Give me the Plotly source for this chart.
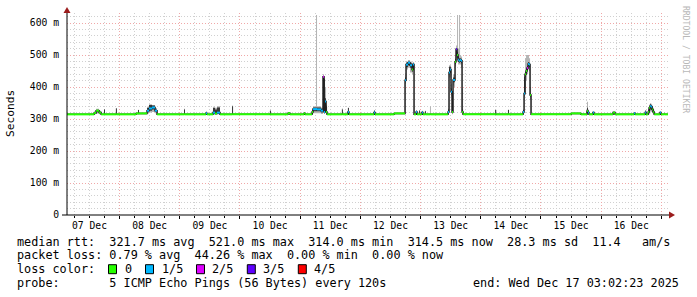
import plotly.graph_objects as go
from datetime import datetime, timedelta

# ---------------- data ----------------
start = datetime(2025, 12, 7, 3, 2, 23)
end = datetime(2025, 12, 17, 3, 2, 23)

# hours since start of each step knot (value holds until the next knot)
t_hours = [0.0, 10.8, 11.6, 12.8, 13.6, 14.75, 15.15, 19.5, 19.9, 27.5,
           28.3, 28.7, 31.9, 32.7, 33.9, 35.1, 35.9, 46.65, 47.05, 55.4,
           55.8, 58.2, 59.0, 59.8, 61.0, 65.8, 66.2, 80.9, 81.3, 88.1,
           88.9, 94.5, 94.9, 97.69, 98.09, 99.28, 99.68, 101.28, 102.07, 102.47,
           102.87, 103.27, 103.67, 109.6, 110.0, 112.0, 112.4, 122.4, 122.8, 130.4,
           134.77, 135.17, 135.96, 136.76, 137.56, 137.96, 138.36, 139.16, 139.56, 140.36,
           140.76, 141.5, 141.9, 142.7, 143.1, 144.7, 145.1, 151.9, 152.3, 152.7,
           153.1, 153.5, 153.9, 154.3, 154.7, 155.1, 155.5, 155.9, 156.3, 156.7,
           157.1, 157.5, 157.9, 170.7, 171.1, 175.8, 176.2, 181.8, 182.22, 182.62,
           183.01, 183.41, 183.81, 184.21, 184.61, 185.0, 200.96, 204.9, 207.3, 207.7,
           208.1, 209.7, 210.1, 217.7, 218.5, 226.1, 226.5, 230.5, 230.9, 231.7,
           232.1, 232.5, 232.9, 233.3, 233.7, 234.1, 236.4, 236.8, 238.0, 238.4,
           239.6]

median_ms = [314.5, 319, 326, 320, 314.5, 314.5, 314.5, 314.5, 314.5, 317.5,
             317.5, 317.5, 326, 333, 336, 326, 314.5, 314.5, 314.5, 318,
             314.5, 320, 317, 320, 314.5, 314.5, 314.5, 314.5, 314.5, 318,
             314.5, 318, 314.5, 322, 331, 331, 330, 326, 432, 322,
             355, 322, 314.5, 314.5, 314.5, 322, 314.5, 320, 314.5, 317.5,
             421, 470, 476, 468, 455, 470, 314.5, 322, 314.5, 314.5,
             314.5, 320, 314.5, 314.5, 314.5, 314.5, 314.5, 322, 445, 455,
             385, 322, 422, 422, 479, 518, 500, 485, 482, 484,
             482, 322, 314.5, 314.5, 314.5, 314.5, 314.5, 322, 380, 440,
             450, 459, 472, 470, 375, 314.5, 317.5, 314.5, 325, 320,
             314.5, 320, 314.5, 320, 314.5, 318, 314.5, 320, 314.5, 322,
             335, 341, 338, 330, 322, 314.5, 320, 314.5, 314.5, 314.5,
             314.5]

# lost pings out of 5 for each knot
loss_fifths = [0, 0, 0, 0, 0, 0, 0, 0, 0, 0,
               0, 0, 1, 1, 1, 1, 0, 0, 0, 1,
               0, 1, 0, 1, 0, 0, 0, 0, 0, 0,
               0, 0, 0, 0, 1, 1, 1, 1, 2, 1,
               1, 0, 0, 0, 0, 1, 0, 1, 0, 0,
               1, 1, 1, 1, 0, 1, 0, 1, 0, 0,
               0, 1, 0, 0, 0, 0, 0, 1, 1, 1,
               1, 0, 1, 1, 0, 3, 0, 1, 1, 1,
               1, 0, 0, 0, 0, 0, 0, 1, 1, 0,
               0, 2, 1, 1, 0, 0, 0, 0, 0, 1,
               0, 1, 0, 0, 0, 1, 0, 1, 0, 0,
               0, 1, 1, 0, 0, 0, 1, 0, 0, 0,
               0]

ping_min_ms = [314.5, 314.5, 317, 314.5, 314.5, 314.5, 314.5, 314.5, 314.5, 314.5,
               314.5, 314.5, 317, 320, 322, 318, 314.5, 314.5, 314.5, 314.5,
               314.5, 314.5, 314.5, 314.5, 314.5, 314.5, 314.5, 314.5, 314.5, 314.5,
               314.5, 314.5, 314.5, 314.5, 318, 318, 318, 316, 420, 316,
               330, 316, 314.5, 314.5, 314.5, 314.5, 314.5, 314.5, 314.5, 314.5,
               410, 455, 460, 445, 440, 455, 314.5, 314.5, 314.5, 314.5,
               314.5, 314.5, 314.5, 314.5, 314.5, 314.5, 314.5, 314.5, 430, 430,
               370, 314.5, 405, 400, 465, 490, 480, 470, 470, 470,
               460, 314.5, 314.5, 314.5, 314.5, 314.5, 314.5, 314.5, 370, 400,
               420, 440, 455, 450, 360, 314.5, 314.5, 314.5, 314.5, 314.5,
               314.5, 314.5, 314.5, 314.5, 314.5, 314.5, 314.5, 314.5, 314.5, 314.5,
               314.5, 325, 322, 318, 314.5, 314.5, 314.5, 314.5, 314.5, 314.5,
               314.5]

ping_lo_ms = [314.5, 316, 321, 317, 314.5, 314.5, 314.5, 314.5, 314.5, 316,
              316, 316, 321, 326, 330, 322, 314.5, 314.5, 314.5, 316,
              314.5, 316, 314.5, 316, 314.5, 314.5, 314.5, 314.5, 314.5, 316,
              314.5, 316, 314.5, 316, 324, 324, 324, 320, 425, 318,
              345, 318, 314.5, 314.5, 314.5, 316, 314.5, 314.5, 314.5, 316,
              415, 462, 468, 460, 448, 462, 314.5, 314.5, 314.5, 314.5,
              314.5, 314.5, 314.5, 314.5, 314.5, 314.5, 314.5, 318, 440, 445,
              378, 318, 415, 415, 472, 505, 490, 478, 476, 478,
              474, 318, 314.5, 314.5, 314.5, 314.5, 314.5, 318, 376, 432,
              442, 452, 466, 462, 370, 314.5, 316, 314.5, 318, 316,
              314.5, 316, 314.5, 316, 314.5, 314.5, 314.5, 314.5, 314.5, 318,
              320, 330, 328, 322, 318, 314.5, 316, 314.5, 314.5, 314.5,
              314.5]

ping_hi_ms = [314.5, 322, 329, 323, 314.5, 330, 314.5, 333, 314.5, 319,
              328, 319, 334, 344, 342, 330, 314.5, 330, 314.5, 322,
              314.5, 334, 330, 336, 314.5, 340, 314.5, 326, 314.5, 320,
              314.5, 320, 314.5, 328, 336, 336, 336, 332, 432, 425,
              365, 340, 314.5, 330, 314.5, 334, 314.5, 326, 314.5, 319,
              430, 476, 480, 474, 465, 474, 314.5, 326, 314.5, 326,
              314.5, 324, 314.5, 324, 314.5, 314.5, 314.5, 330, 463, 463,
              395, 330, 430, 430, 488, 520, 510, 495, 490, 490,
              488, 330, 314.5, 328, 314.5, 328, 314.5, 328, 432, 448,
              458, 466, 478, 476, 380, 314.5, 319, 314.5, 335, 326,
              314.5, 322, 314.5, 322, 314.5, 320, 314.5, 326, 314.5, 330,
              340, 347, 342, 334, 326, 314.5, 322, 314.5, 314.5, 314.5,
              314.5]

ping_max_ms = [314.5, 324, 332, 326, 314.5, 331, 314.5, 334, 314.5, 320,
               329, 320, 338, 346, 344, 334, 314.5, 332, 314.5, 324,
               314.5, 338, 335, 340, 314.5, 342, 314.5, 327, 314.5, 321,
               314.5, 321, 314.5, 332, 340, 625, 340, 336, 440, 430,
               400, 345, 314.5, 333, 314.5, 336, 314.5, 328, 314.5, 320,
               440, 480, 484, 480, 476, 478, 314.5, 328, 314.5, 328,
               314.5, 326, 314.5, 326, 314.5, 340, 314.5, 333, 468, 468,
               410, 340, 440, 440, 500, 530, 625, 520, 625, 500,
               495, 395, 314.5, 330, 314.5, 330, 314.5, 330, 440, 490,
               500, 500, 500, 490, 400, 314.5, 320, 314.5, 354, 330,
               314.5, 324, 314.5, 324, 314.5, 322, 314.5, 328, 314.5, 334,
               345, 350, 345, 338, 330, 314.5, 324, 314.5, 322, 314.5,
               314.5]

loss_labels = ["0", "1/5", "2/5", "3/5", "4/5"]
loss_colors = ["#26ff00", "#00b8ff", "#dd00ff", "#5e00ff", "#ff0000"]

day_labels = ["07 Dec", "08 Dec", "09 Dec", "10 Dec", "11 Dec",
              "12 Dec", "13 Dec", "14 Dec", "15 Dec", "16 Dec"]
y_values = [0, 100, 200, 300, 400, 500, 600]
y_labels = ["0", "100 m", "200 m", "300 m", "400 m", "500 m", "600 m"]

legend_lines = [
    "median rtt:  321.7 ms avg  521.0 ms max  314.0 ms min  314.5 ms now  28.3 ms sd  11.4   am/s",
    "packet loss: 0.79 % avg  44.26 % max  0.00 % min  0.00 % now",
    "loss color:",
    "probe:       5 ICMP Echo Pings (56 Bytes) every 120s",
]
end_text = "end: Wed Dec 17 03:02:23 2025"

# ---------------- geometry ----------------
W, H = 697, 297
L, R, T, BOT = 67, 669, 13, 215
PW, PH = R - L, BOT - T
MONO = "DejaVu Sans Mono"


def px(x):
    return (x - L) / PW


def py(y):
    return (BOT - y) / PH


times = [start + timedelta(hours=h) for h in t_hours]

fig = go.Figure()

# light smoke (min..max)
fig.add_trace(go.Scatter(x=times, y=ping_min_ms, mode="lines", line=dict(width=0, shape="hv"),
                         hoverinfo="skip", showlegend=False))
fig.add_trace(go.Scatter(x=times, y=ping_max_ms, mode="lines", line=dict(width=0, shape="hv"),
                         fill="tonexty", fillcolor="#b4b4b4", hoverinfo="skip", showlegend=False))
# dark smoke (lo..hi)
fig.add_trace(go.Scatter(x=times, y=ping_lo_ms, mode="lines", line=dict(width=0, shape="hv"),
                         hoverinfo="skip", showlegend=False))
fig.add_trace(go.Scatter(x=times, y=ping_hi_ms, mode="lines", line=dict(width=0, shape="hv"),
                         fill="tonexty", fillcolor="#3a3a3a", hoverinfo="skip", showlegend=False))
# median line
fig.add_trace(go.Scatter(x=times, y=median_ms, mode="lines",
                         line=dict(width=1.5, shape="hv", color="#202020"),
                         hoverinfo="skip", showlegend=False))
# loss-coloured median segments
for cls, col in enumerate(loss_colors):
    xs, ys = [], []
    for i in range(len(times) - 1):
        if loss_fifths[i] == cls:
            xs += [times[i], times[i + 1], None]
            ys += [median_ms[i], median_ms[i], None]
    if xs:
        fig.add_trace(go.Scatter(x=xs, y=ys, mode="lines", line=dict(width=2, color=col),
                                 hoverinfo="skip", showlegend=False))

# empty trace to create the overlay axis for midnight grid
fig.add_trace(go.Scatter(x=[], y=[], xaxis="x2", showlegend=False))

noons = [datetime(2025, 12, 7 + i, 12) for i in range(len(day_labels))]
midnights = [datetime(2025, 12, 8 + i) for i in range(10)]

fig.update_layout(
    width=W, height=H,
    margin=dict(l=L, r=W - R, t=T, b=H - BOT, pad=0),
    paper_bgcolor="white", plot_bgcolor="white",
    showlegend=False,
    xaxis=dict(
        type="date", range=[start, end], tickvals=noons, ticktext=day_labels,
        showgrid=False, zeroline=False, showline=False, ticks="",
        tickfont=dict(family=MONO, size=9.7, color="#000"),
        ticklabelstandoff=3,
        minor=dict(dtick=6 * 3600 * 1000, tick0="2025-12-07 00:00", showgrid=True,
                   gridcolor="#d0d0d0", griddash="1px,2px", gridwidth=1,
                   ticks="outside", ticklen=2, tickcolor="#000"),
    ),
    xaxis2=dict(
        type="date", range=[start, end], overlaying="x", anchor="y", side="bottom",
        tickvals=midnights, showticklabels=False, showgrid=True,
        gridcolor="#f0a8a8", griddash="1px,2px", gridwidth=1,
        ticks="outside", ticklen=3, tickcolor="#000", zeroline=False, showline=False,
    ),
    yaxis=dict(
        range=[0, 631.25], tickvals=y_values, ticktext=y_labels,
        showgrid=True, gridcolor="#f0a8a8", griddash="1px,2px", gridwidth=1,
        zeroline=False, showline=False, ticks="",
        tickfont=dict(family=MONO, size=9.7, color="#000"),
        ticklabelstandoff=7,
        minor=dict(dtick=20, showgrid=True, gridcolor="#d0d0d0", griddash="1px,2px", gridwidth=1),
    ),
)

shapes = []
# axes lines
shapes.append(dict(type="line", xref="paper", yref="paper", x0=px(62), x1=px(670), y0=0, y1=0,
                   line=dict(color="#000", width=1)))
shapes.append(dict(type="line", xref="paper", yref="paper", x0=0, x1=0, y0=0, y1=py(10),
                   line=dict(color="#000", width=1)))
# arrow heads
shapes.append(dict(type="path", xref="paper", yref="paper",
                   path=f"M {px(669)} {py(211.5)} L {px(675)} {py(215)} L {px(669)} {py(218.5)} Z",
                   fillcolor="#9b1c1c", line=dict(width=0)))
shapes.append(dict(type="path", xref="paper", yref="paper",
                   path=f"M {px(63.5)} {py(13)} L {px(67)} {py(7)} L {px(70.5)} {py(13)} Z",
                   fillcolor="#9b1c1c", line=dict(width=0)))

annotations = []
line_y = [241.7, 255.3, 269.2, 283]
for txt, yy in zip(legend_lines, line_y):
    annotations.append(dict(text=txt, x=px(15), y=py(yy), xref="paper", yref="paper",
                            xanchor="left", yanchor="middle", showarrow=False,
                            font=dict(family=MONO, size=11.8, color="#000")))
annotations.append(dict(text=end_text, x=px(681), y=py(283), xref="paper", yref="paper",
                        xanchor="right", yanchor="middle", showarrow=False,
                        font=dict(family=MONO, size=11.8, color="#000")))

sq_x = [108.5, 145.5, 196.5, 247.3, 298.3]
lab_x = [122.5, 159.5, 210.0, 261.0, 311.5]
for lab, col, sx, lx in zip(loss_labels, loss_colors, sq_x, lab_x):
    shapes.append(dict(type="rect", xref="paper", yref="paper",
                       x0=px(sx), x1=px(sx + 8), y0=py(273.7), y1=py(264.7),
                       fillcolor=col, line=dict(color="#000", width=1)))
    annotations.append(dict(text=lab, x=px(lx), y=py(269.2), xref="paper", yref="paper",
                            xanchor="left", yanchor="middle", showarrow=False,
                            font=dict(family=MONO, size=11.8, color="#000")))

annotations.append(dict(text="Seconds", x=px(10), y=py(114), xref="paper", yref="paper",
                        xanchor="center", yanchor="middle", showarrow=False, textangle=-90,
                        font=dict(family=MONO, size=11.2, color="#000")))
annotations.append(dict(text="RRDTOOL / TOBI OETIKER", x=px(686), y=py(59), xref="paper", yref="paper",
                        xanchor="center", yanchor="middle", showarrow=False, textangle=90,
                        font=dict(family=MONO, size=8.1, color="#b8b8b8")))

fig.update_layout(shapes=shapes, annotations=annotations)

fig.write_html("out.html")
